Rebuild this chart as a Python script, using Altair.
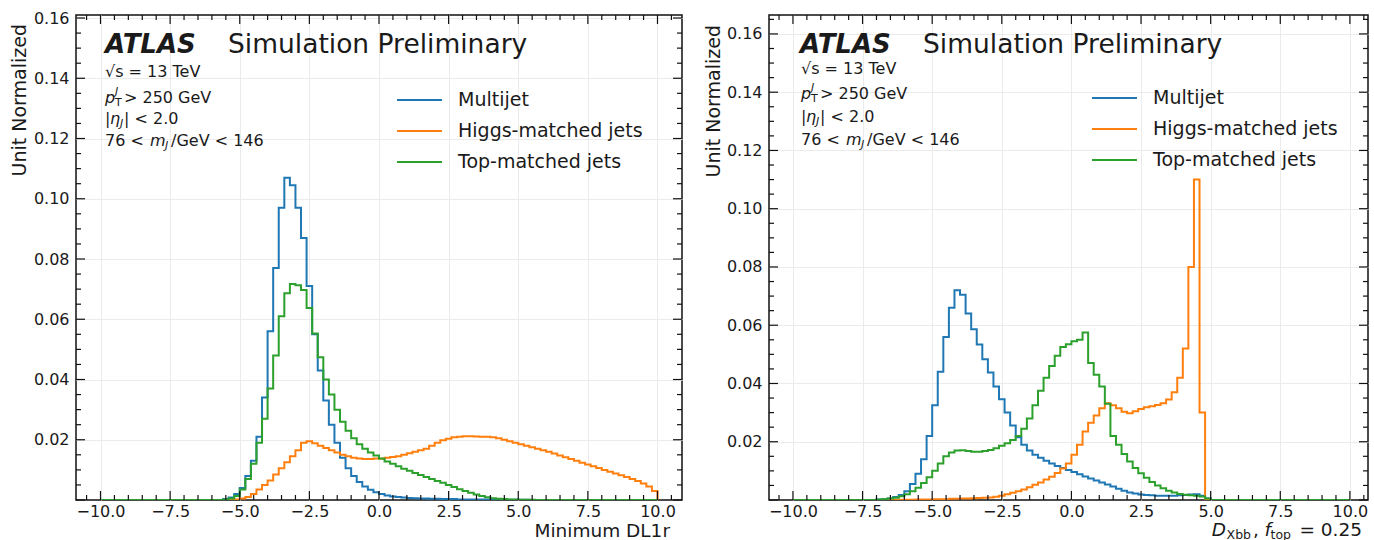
import altair as alt
import pandas as pd

# ---------------- data ----------------
BIN_WIDTH = 0.2
N_BINS = 100
X_MIN, X_MAX = -10.0, 10.0
SERIES = ["Multijet", "Higgs-matched jets", "Top-matched jets"]
COLORS = ["#1f77b4", "#ff7f0e", "#2ca02c"]

X_MAJOR = [-10.0, -7.5, -5.0, -2.5, 0.0, 2.5, 5.0, 7.5, 10.0]
X_MINOR = [-10.5, -9.5, -9.0, -8.5, -8.0, -7.0, -6.5, -6.0, -5.5, -4.5, -4.0, -3.5, -3.0,
           -2.0, -1.5, -1.0, -0.5, 0.5, 1.0, 1.5, 2.0, 3.0, 3.5, 4.0, 4.5, 5.5, 6.0, 6.5,
           7.0, 8.0, 8.5, 9.0, 9.5, 10.5]
Y_MAJOR = [0.02, 0.04, 0.06, 0.08, 0.10, 0.12, 0.14, 0.16]
Y_MINOR = [0.005, 0.01, 0.015, 0.025, 0.03, 0.035, 0.045, 0.05, 0.055, 0.065, 0.07, 0.075,
           0.085, 0.09, 0.095, 0.105, 0.11, 0.115, 0.125, 0.13, 0.135, 0.145, 0.15, 0.155,
           0.165]

# Left panel: Minimum DL1r  (bin contents from the given start edge, 0.2 wide bins)
L_MULTI_START = -5.6
L_MULTI = [0.0003, 0.0008, 0.002, 0.004, 0.008, 0.013, 0.021, 0.034, 0.056, 0.077,
           0.097, 0.107, 0.1045, 0.097, 0.087, 0.071, 0.055, 0.043, 0.033, 0.025,
           0.019, 0.014, 0.0105, 0.008, 0.006, 0.0045, 0.0034, 0.0026, 0.002, 0.0015,
           0.0012, 0.001, 0.0008, 0.0007, 0.0006, 0.0005, 0.0005, 0.0004, 0.0004, 0.0003,
           0.0003, 0.0003, 0.0002, 0.0002, 0.0002, 0.0002, 0.0002, 0.0002, 0.0002, 0.0001,
           0.0001, 0.0001, 0.0001, 0.0001, 0.0001]
L_HIGGS_START = -5.2
L_HIGGS = [0.0002, 0.0005, 0.001, 0.002, 0.0035, 0.005, 0.0065, 0.0085, 0.0105, 0.0125,
           0.0145, 0.0165, 0.019, 0.0195, 0.0188, 0.018, 0.0173, 0.0165, 0.0158, 0.015,
           0.0145, 0.014, 0.0138, 0.0136, 0.0136, 0.0138, 0.0137, 0.014, 0.0143, 0.0145,
           0.015, 0.0155, 0.016, 0.0165, 0.017, 0.018, 0.019, 0.0198, 0.0203, 0.0208,
           0.021, 0.0212, 0.0212, 0.0211, 0.021, 0.021, 0.0208, 0.0205, 0.020, 0.0195,
           0.019, 0.0185, 0.018, 0.0175, 0.017, 0.0165, 0.016, 0.0154, 0.0148, 0.0142,
           0.0136, 0.013, 0.0124, 0.0118, 0.0112, 0.0106, 0.010, 0.0094, 0.0088, 0.0082,
           0.0076, 0.007, 0.0063, 0.0055, 0.0045, 0.003]
L_TOP_START = -5.6
L_TOP = [0.0002, 0.0005, 0.0013, 0.0035, 0.007, 0.012, 0.019, 0.027, 0.037, 0.048,
         0.061, 0.0686, 0.0717, 0.0713, 0.0697, 0.0637, 0.0553, 0.0474, 0.040, 0.035,
         0.030, 0.026, 0.023, 0.0205, 0.0185, 0.017, 0.0158, 0.0148, 0.0138, 0.0128,
         0.012, 0.0112, 0.0104, 0.0097, 0.009, 0.0083, 0.0076, 0.007, 0.0063, 0.0057,
         0.005, 0.0043, 0.0036, 0.003, 0.0024, 0.0018, 0.0013, 0.0009, 0.0006, 0.0004,
         0.0003, 0.0002, 0.0002, 0.0001, 0.0001, 0.0001]

# Right panel: D_Xbb, f_top = 0.25
R_MULTI_START = -7.0
R_MULTI = [0.0002, 0.0003, 0.0005, 0.001, 0.0017, 0.003, 0.0055, 0.009, 0.014, 0.022,
           0.0325, 0.044, 0.056, 0.066, 0.072, 0.0705, 0.064, 0.0586, 0.0534, 0.0483,
           0.0438, 0.039, 0.0346, 0.030, 0.0256, 0.0215, 0.019, 0.017, 0.0155, 0.0145,
           0.0135, 0.0125, 0.0117, 0.011, 0.0103, 0.0096, 0.0088, 0.0081, 0.0074, 0.0067,
           0.006, 0.0053, 0.0046, 0.0039, 0.0032, 0.0026, 0.0022, 0.0019, 0.0017, 0.0016,
           0.0015, 0.0015, 0.0015, 0.0015, 0.0016, 0.0017, 0.0019, 0.002, 0.0015, 0.0005]
R_HIGGS_START = -6.2
R_HIGGS = [0.0001, 0.0001, 0.0001, 0.0002, 0.0002, 0.0002, 0.0003, 0.0003, 0.0003, 0.0004,
           0.0004, 0.0005, 0.0005, 0.0006, 0.0007, 0.0008, 0.0009, 0.0011, 0.0015, 0.002,
           0.0025, 0.003, 0.0036, 0.0044, 0.0052, 0.006, 0.007, 0.008, 0.0093, 0.0108,
           0.0125, 0.0155, 0.019, 0.0235, 0.0265, 0.029, 0.0315, 0.0332, 0.0325, 0.0315,
           0.0303, 0.0298, 0.0305, 0.0312, 0.0318, 0.0322, 0.0326, 0.0332, 0.0345, 0.037,
           0.042, 0.052, 0.080, 0.110, 0.030]
R_TOP_START = -7.0
R_TOP = [0.0002, 0.0003, 0.0005, 0.0008, 0.0013, 0.002, 0.003, 0.0042, 0.0058, 0.0078,
         0.010, 0.0125, 0.015, 0.0163, 0.017, 0.0171, 0.0168, 0.0166, 0.0166, 0.0168,
         0.0172, 0.0178, 0.0186, 0.0195, 0.0206, 0.022, 0.0245, 0.028, 0.0325, 0.0375,
         0.042, 0.046, 0.0495, 0.0525, 0.0535, 0.0545, 0.055, 0.0575, 0.047, 0.043,
         0.039, 0.033, 0.022, 0.019, 0.0158, 0.0132, 0.011, 0.0092, 0.0076, 0.0062,
         0.005, 0.004, 0.0032, 0.0026, 0.0021, 0.0018, 0.0016, 0.0015, 0.0012, 0.0005]

# ---------------- helpers ----------------
FONT = "DejaVu Sans"
TXT = "#1a1a1a"
W_L, W_R, H = 606, 599, 485


def full_bins(start, vals):
    arr = [0.0] * N_BINS
    k0 = int(round((start - X_MIN) / BIN_WIDTH))
    for j, v in enumerate(vals):
        arr[k0 + j] = v
    return arr


def hist_frame(start, vals):
    arr = full_bins(start, vals)
    edges = [round(X_MIN + BIN_WIDTH * k, 2) for k in range(N_BINS)]
    xs = [X_MIN] + edges + [X_MAX, X_MAX]
    ys = [0.0] + arr + [arr[-1], 0.0]
    return pd.DataFrame({"x": xs, "y": ys, "i": list(range(len(xs)))})


def txt(s, x, y, size, align="left", baseline="middle", **kw):
    return alt.Chart(pd.DataFrame({"t": [s]})).mark_text(
        font=FONT, fontSize=size, align=align, baseline=baseline, color=TXT, **kw
    ).encode(x=alt.value(x), y=alt.value(y), text="t:N")


def panel(hists, xdom, ydom, W, xtitle_layers, o):
    xs = alt.Scale(domain=xdom, nice=False, zero=False)
    ys = alt.Scale(domain=ydom, nice=False, zero=False)
    xaxis = alt.Axis(values=X_MAJOR, format=".1f", title=None, grid=True, gridColor="#ebebeb",
                     gridWidth=1, ticks=False, domain=False, labelFontSize=16, labelFont=FONT,
                     labelColor=TXT, labelPadding=3)
    yaxis = alt.Axis(values=Y_MAJOR, format=".2f", title=None, grid=True, gridColor="#ebebeb",
                     gridWidth=1, ticks=False, domain=False, labelFontSize=16, labelFont=FONT,
                     labelColor=TXT, labelPadding=7)
    X = lambda f: alt.X(f, scale=xs, axis=xaxis)
    Y = lambda f: alt.Y(f, scale=ys, axis=yaxis)
    layers = []
    # histograms
    for (start, vals), color in zip(hists, COLORS):
        layers.append(
            alt.Chart(hist_frame(start, vals)).mark_line(
                interpolate="step-after", color=color, strokeWidth=2, clip=True
            ).encode(x=X("x:Q"), y=Y("y:Q"), order="i:Q")
        )
    # inward ticks on all four sides
    for vals, ln in ((X_MAJOR, 9), (X_MINOR, 5)):
        d = pd.DataFrame({"x": [v for v in vals if xdom[0] < v < xdom[1]]})
        for y1, y2 in ((H, H - ln), (0, ln)):
            layers.append(alt.Chart(d).mark_rule(color="#111", strokeWidth=1.2).encode(
                x=X("x:Q"), y=alt.value(y1), y2=alt.value(y2)))
    for vals, ln in (([0.0] + Y_MAJOR, 9), (Y_MINOR, 5)):
        d = pd.DataFrame({"y": [v for v in vals if ydom[0] <= v < ydom[1]]})
        for x1, x2 in ((0, ln), (W, W - ln)):
            layers.append(alt.Chart(d).mark_rule(color="#111", strokeWidth=1.2).encode(
                y=Y("y:Q"), x=alt.value(x1), x2=alt.value(x2)))
    # ATLAS label
    ax, ay = o["atlas"]
    layers.append(txt("ATLAS", ax, ay, 26, fontWeight="bold", fontStyle="italic"))
    layers.append(txt("Simulation Preliminary", ax + 123, ay, 26.5))
    ix, iy = o["info"]
    layers.append(txt("√s = 13 TeV", ix, iy[0], 16))
    layers.append(txt("p", ix, iy[1], 16, fontStyle="italic"))
    layers.append(txt("J", ix + 10, iy[1] - 6, 11, fontStyle="italic"))
    layers.append(txt("T", ix + 10, iy[1] + 5, 11))
    layers.append(txt("> 250 GeV", ix + 19, iy[1], 16))
    layers.append(txt("|", ix, iy[2], 16))
    layers.append(txt("η", ix + 5, iy[2], 16, fontStyle="italic"))
    layers.append(txt("J", ix + 15, iy[2] + 5, 11, fontStyle="italic"))
    layers.append(txt("| <  2.0", ix + 19, iy[2], 16))
    layers.append(txt("76 <", ix, iy[3], 16))
    layers.append(txt("m", ix + 45, iy[3], 16, fontStyle="italic"))
    layers.append(txt("J", ix + 60, iy[3] + 5, 11, fontStyle="italic"))
    layers.append(txt("/GeV < 146", ix + 66, iy[3], 16))
    # legend
    lx, ly = o["legend"]
    for k, (name, color) in enumerate(zip(SERIES, COLORS)):
        yk = ly + 31 * k
        layers.append(alt.Chart(pd.DataFrame({"s": [name]})).mark_rule(
            color=color, strokeWidth=2).encode(x=alt.value(lx), x2=alt.value(lx + 45), y=alt.value(yk)))
        layers.append(txt(name, lx + 61, yk, 19))
    # y title
    layers.append(txt("Unit Normalized", o["ytitle"][0], o["ytitle"][1], 19, align="right", angle=270))
    layers += xtitle_layers
    return alt.layer(*layers).properties(width=W, height=H)


left_xtitle = [txt("Minimum DL1r", 594, H + 31, 18.5, align="right")]
right_xtitle = [
    txt("D", 457, H + 30, 18.5, align="right", fontStyle="italic"),
    txt("Xbb", 482, H + 35, 12.5, align="right"),
    txt(",", 490, H + 30, 18.5, align="right"),
    txt("f", 502, H + 30, 18.5, align="right", fontStyle="italic"),
    txt("top", 522, H + 35, 12.5, align="right"),
    txt("= 0.25", 593, H + 30, 18.5, align="right"),
]

left = panel([(L_MULTI_START, L_MULTI), (L_HIGGS_START, L_HIGGS), (L_TOP_START, L_TOP)],
             [-10.88, 10.88], [0.0, 0.161], W_L, left_xtitle,
             {"atlas": (29, 30), "info": (29, [57, 83, 104, 126]), "legend": (321, 85),
              "ytitle": (-56, 9)})
right = panel([(R_MULTI_START, R_MULTI), (R_HIGGS_START, R_HIGGS), (R_TOP_START, R_TOP)],
              [-10.86, 10.65], [0.0, 0.1665], W_R, right_xtitle,
              {"atlas": (31, 30), "info": (32, [54, 79, 102, 125]), "legend": (323, 83),
               "ytitle": (-55, 10)})

chart = alt.hconcat(left, right, spacing=87, bounds="flush").properties(
    padding={"left": 10, "top": 9, "right": 0, "bottom": 0}
).configure_view(stroke="#111", strokeWidth=1.5)

chart.save("out.html", embed_options={"renderer": "svg", "actions": False})
